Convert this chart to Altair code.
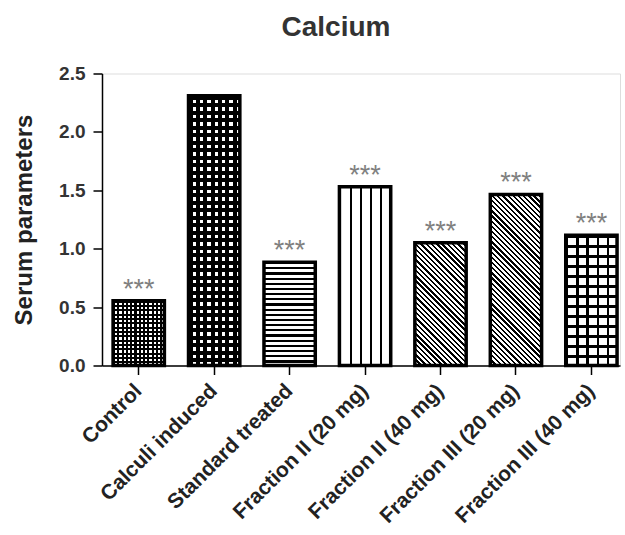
import math
import altair as alt
import pandas as pd

# ---- data ----
categories = [
    "Control",
    "Calculi induced",
    "Standard treated",
    "Fraction II (20 mg)",
    "Fraction II (40 mg)",
    "Fraction III (20 mg)",
    "Fraction III (40 mg)",
]
values = [0.555, 2.31, 0.885, 1.53, 1.05, 1.465, 1.115]
signif = ["***", "", "***", "***", "***", "***", "***"]
y_ticks = [0.0, 0.5, 1.0, 1.5, 2.0, 2.5]

df = pd.DataFrame({"cat": categories, "val": values, "sig": signif})

# ---- layout ----
W, H = 518, 292
Y_MAX = 2.5
P_INNER, P_OUTER, ALIGN = 0.32, 0.093, 0.79
step = W / (len(categories) - P_INNER + 2 * P_OUTER)
bandwidth = step * (1 - P_INNER)

# ---- hatch styles (kind, period px, ink fraction) ----
patterns = {
    "Control": [("h", 4.2, 0.5), ("v", 4.4, 0.5)],
    "Calculi induced": [("h", 7.4, 0.55), ("v", 7.6, 0.55)],
    "Standard treated": [("h", 5.3, 0.42)],
    "Fraction II (20 mg)": [("v", 9.6, 0.18)],
    "Fraction II (40 mg)": [("d", 3.7, 0.45)],
    "Fraction III (20 mg)": [("d", 3.7, 0.45)],
    "Fraction III (40 mg)": [("h", 9.7, 0.26), ("v", 9.8, 0.26)],
}

INK = "#000000"
CLEAR = "rgba(255,255,255,0)"


def hatch(kind, period, frac, w, h, base):
    if kind == "h":
        x1, y1, x2, y2, span = 0, 0, 0, 1, h
    elif kind == "v":
        x1, y1, x2, y2, span = 0, 0, 1, 0, w
    else:  # "\" diagonal lines, 45 degrees in pixel space
        k = (w + h) / (w * w + h * h)
        x1, y1, x2, y2 = 0, 1, w * k, 1 - h * k
        span = (w + h) / math.sqrt(2)
    n = max(1, round(span / period))
    stops = []
    for i in range(n):
        a = i / n
        b = min(1.0, (i + frac) / n)
        c = min(1.0, (i + 1) / n)
        stops += [
            alt.GradientStop(offset=a, color=INK),
            alt.GradientStop(offset=b, color=INK),
            alt.GradientStop(offset=b, color=base),
            alt.GradientStop(offset=c, color=base),
        ]
    return alt.LinearGradient(gradient="linear", stops=stops, x1=x1, y1=y1, x2=x2, y2=y2)


x_enc = alt.X(
    "cat:N",
    scale=alt.Scale(domain=categories, paddingInner=P_INNER, paddingOuter=P_OUTER, align=ALIGN),
    axis=alt.Axis(
        title=None,
        labelAngle=-45,
        labelAlign="right",
        labelBaseline="middle",
        labelFont="Arial",
        labelFontSize=21,
        labelFontWeight="bold",
        labelColor="#222222",
        labelPadding=13,
        labelLimit=400,
        tickSize=9,
        tickWidth=1.5,
        tickColor="#000000",
        domainColor="#000000",
        domainWidth=1.5,
    ),
)
y_enc = alt.Y(
    "val:Q",
    scale=alt.Scale(domain=[0, Y_MAX], nice=False, zero=True),
    axis=alt.Axis(
        title="Serum parameters",
        values=y_ticks,
        format=".1f",
        grid=False,
        labelFont="Arial",
        labelFontSize=19,
        labelFontWeight="bold",
        labelColor="#333333",
        labelPadding=8,
        tickSize=9,
        tickWidth=1.5,
        tickColor="#000000",
        domainColor="#000000",
        domainWidth=1.5,
        titleFont="Arial",
        titleFontSize=24,
        titleFontWeight="bold",
        titleColor="#222222",
        titlePadding=22,
    ),
)

base = alt.Chart(df).encode(x=x_enc, y=y_enc)

layers = []
for cat, val in zip(categories, values):
    h = val / Y_MAX * H
    specs = patterns[cat]
    for j, (kind, period, frac) in enumerate(specs):
        bg = "#ffffff" if j == 0 else CLEAR
        layers.append(
            base.transform_filter(alt.datum.cat == cat).mark_bar(
                fill=hatch(kind, period, frac, bandwidth, h, bg)
            )
        )

outline = base.mark_bar(fill="transparent", stroke="#000000", strokeWidth=3.5)

stars = (
    base.transform_filter(alt.datum.sig != "")
    .mark_text(
        font="Arial",
        fontSize=27,
        color="#808080",
        baseline="alphabetic",
        align="center",
        dy=-3,
    )
    .encode(text="sig:N")
)

chart = (
    alt.layer(*layers, outline, stars)
    .properties(
        width=W,
        height=H,
        title=alt.TitleParams(
            text="Calcium",
            font="Arial",
            fontSize=28,
            fontWeight="bold",
            color="#333333",
            anchor="middle",
            dx=-25,
            offset=23,
        ),
        autosize=alt.AutoSizeParams(type="none"),
        padding={"left": 102, "top": 73.5, "right": 5, "bottom": 169},
    )
    .configure_view(stroke=None)
    .configure(background="#ffffff")
)

chart.save("out.html", embed_options={"renderer": "svg", "actions": False})
